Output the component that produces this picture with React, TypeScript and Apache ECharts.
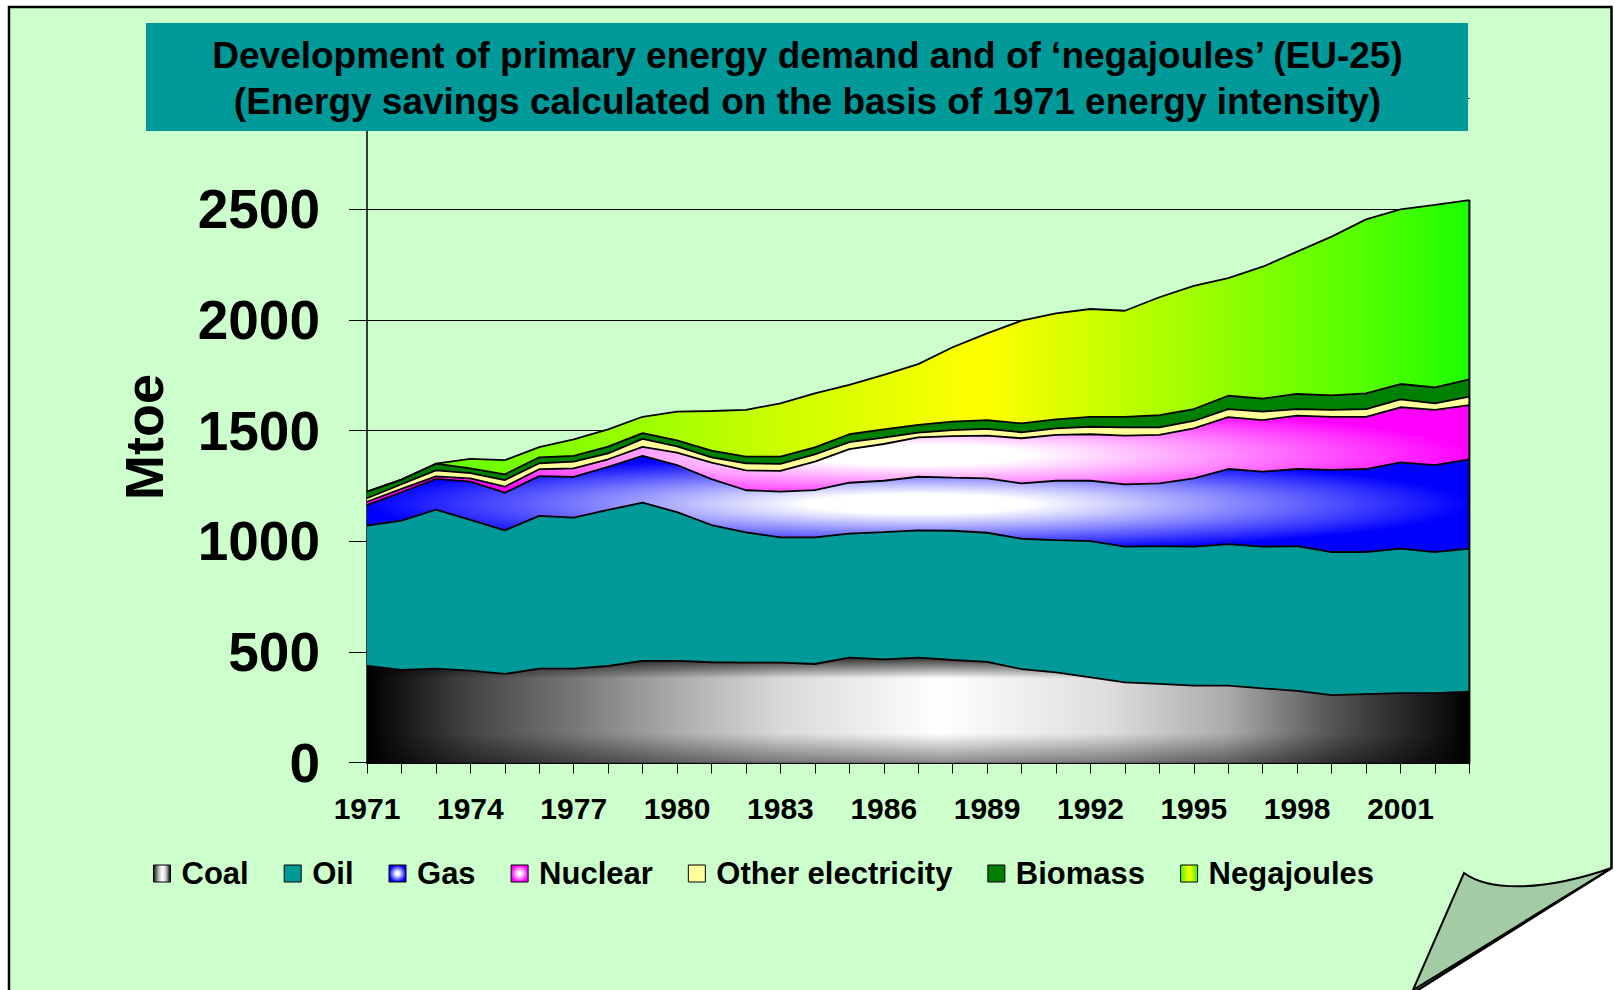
import React, { useEffect, useRef } from 'react';
import * as echarts from 'echarts';

const years = ['1971','1972','1973','1974','1975','1976','1977','1978','1979','1980','1981','1982','1983','1984','1985','1986','1987','1988','1989','1990','1991','1992','1993','1994','1995','1996','1997','1998','1999','2000','2001','2002','2003'];

const coal = [436,418,424,415,400,424,424,436,459,459,453,451,451,445,474,466,474,463,455,422,407,385,362,355,347,347,335,324,304,309,313,313,320];
const oil = [634,675,718,681,649,690,682,705,715,672,620,589,566,572,560,575,575,584,583,589,598,615,613,623,628,640,640,654,647,642,653,638,646];
const gas = [93,128,139,173,170,180,184,195,211,213,207,190,207,214,230,232,242,240,246,250,268,273,282,283,309,339,339,348,371,375,390,393,404];
const nuclear = [15,15,12,15,27,31,39,34,41,56,75,90,94,128,152,166,178,188,193,204,207,210,220,219,226,234,233,241,240,236,249,249,245];
const otherElectricity = [16,21,27,23,30,27,30,27,36,28,24,32,31,33,31,29,21,27,30,27,30,34,37,34,33,37,38,30,31,35,36,30,38];
const biomass = [30,21,30,22,26,27,26,30,26,27,30,30,33,32,36,37,35,38,40,40,40,45,48,55,54,60,59,68,66,71,69,72,78];
const negajoules = [0,0,0,43,64,46,75,78,74,130,179,211,241,244,223,246,275,336,392,464,479,487,479,533,556,531,596,643,717,786,789,824,810];

const yTicks = [0, 500, 1000, 1500, 2000, 2500, 3000];

const titleLine1 = 'Development of primary energy demand and of \u2018negajoules\u2019 (EU-25)';
const titleLine2 = '(Energy savings calculated on the basis of 1971 energy intensity)';

const FONT = '"Liberation Sans", Arial, Helvetica, sans-serif';

echarts.graphic.registerShape(
  'pageFlap',
  echarts.graphic.extendPath('M1464,873 C1490,892 1545,891 1611.5,868 L1413,990 Z', {})
);

function centerGrad(edge: string) {
  return new echarts.graphic.RadialGradient(0.5, 0.5, 0.5, [
    { offset: 0, color: '#ffffff' },
    { offset: 0.2, color: '#ffffff' },
    { offset: 1, color: edge },
  ]);
}

function coalGrad() {
  return new echarts.graphic.LinearGradient(0, 0, 1, 0, [
    { offset: 0, color: '#000000' },
    { offset: 0.094, color: '#454545' },
    { offset: 0.19, color: '#787878' },
    { offset: 0.28, color: '#ababab' },
    { offset: 0.375, color: '#d9d9d9' },
    { offset: 0.52, color: '#ffffff' },
    { offset: 0.67, color: '#dedede' },
    { offset: 0.78, color: '#ababab' },
    { offset: 0.875, color: '#555555' },
    { offset: 1, color: '#000000' },
  ]);
}

function coalShadeGrad() {
  return new echarts.graphic.LinearGradient(0, 0, 0, 1, [
    { offset: 0, color: 'rgba(0,0,0,0.8)' },
    { offset: 0.2, color: 'rgba(0,0,0,0)' },
    { offset: 0.72, color: 'rgba(0,0,0,0)' },
    { offset: 1, color: 'rgba(0,0,0,0.45)' },
  ]);
}

function negaGrad() {
  return new echarts.graphic.LinearGradient(0, 0, 1, 0, [
    { offset: 0, color: '#4dff00' },
    { offset: 0.19, color: '#87ff00' },
    { offset: 0.375, color: '#ccff00' },
    { offset: 0.56, color: '#ffff00' },
    { offset: 0.75, color: '#a0ff00' },
    { offset: 0.94, color: '#40ff00' },
    { offset: 1, color: '#1aff00' },
  ]);
}

export default function App() {
  const ref = useRef<HTMLDivElement>(null);

  useEffect(() => {
    if (!ref.current) return;
    const chart = echarts.init(ref.current, undefined, { renderer: 'svg' });

    const defs = [
      { name: 'Coal', data: coal, fill: () => coalGrad() },
      { name: 'Oil', data: oil, fill: () => '#009999' },
      { name: 'Gas', data: gas, fill: () => centerGrad('#0000ff') },
      { name: 'Nuclear', data: nuclear, fill: () => centerGrad('#ff00ff') },
      { name: 'Other electricity', data: otherElectricity, fill: () => '#ffff99' },
      { name: 'Biomass', data: biomass, fill: () => '#008000' },
      { name: 'Negajoules', data: negajoules, fill: () => negaGrad() },
    ];

    const lastIdx = years.length - 1;
    const total = defs.reduce((s, d) => s + d.data[lastIdx], 0);

    const series: any[] = [];
    defs.forEach((d, i) => {
      series.push({
        name: d.name,
        type: 'line',
        stack: 'energy',
        data: d.data,
        showSymbol: false,
        symbol: 'none',
        lineStyle: { color: '#000', width: 1.8 },
        areaStyle: { color: d.fill(), opacity: 1 },
        emphasis: { disabled: true },
        silent: true,
        z: 2,
      });
      if (i === 0) {
        // vertical shading of the coal band (same data, not stacked)
        series.push({
          name: 'coalShade',
          type: 'line',
          data: coal,
          showSymbol: false,
          symbol: 'none',
          lineStyle: { width: 0, opacity: 0 },
          areaStyle: { color: coalShadeGrad(), opacity: 1 },
          emphasis: { disabled: true },
          silent: true,
          z: 2,
        });
      }
    });

    series.push({
      name: 'edge',
      type: 'line',
      data: [[years[lastIdx], 0], [years[lastIdx], total]],
      showSymbol: false,
      symbol: 'none',
      lineStyle: { color: '#000', width: 2 },
      silent: true,
      z: 3,
    });

    chart.setOption({
      animation: false,
      backgroundColor: '#ffffff',
      title: {
        text: titleLine1 + '\n' + titleLine2,
        left: 'center',
        top: 32,
        padding: 0,
        z: 20,
        textStyle: {
          fontFamily: FONT,
          fontSize: 37,
          fontWeight: 'bold',
          color: '#000',
          lineHeight: 46,
        },
      },
      graphic: [
        {
          type: 'polygon',
          z: -10,
          silent: true,
          shape: { points: [[9, 7], [1611.5, 7], [1611.5, 868], [1413, 993], [9, 993]] },
          style: { fill: '#ccffcc', stroke: '#000', lineWidth: 2.5 },
        },
        {
          type: 'pageFlap',
          z: 5,
          silent: true,
          x: 0,
          y: 0,
          style: { fill: '#a4cca4', stroke: '#000', lineWidth: 2 },
        },
        {
          type: 'rect',
          z: 15,
          silent: true,
          shape: { x: 146, y: 23, width: 1322, height: 108 },
          style: { fill: '#009999' },
        },
      ],
      legend: {
        left: 148,
        top: 853,
        icon: 'rect',
        itemWidth: 17,
        itemHeight: 17,
        itemGap: 35,
        selectedMode: false,
        textStyle: {
          fontFamily: FONT,
          fontSize: 31,
          fontWeight: 'bold',
          color: '#000',
          padding: [0, 0, 0, 6],
        },
        data: defs.map((d) => ({
          name: d.name,
          itemStyle: { color: d.fill(), borderColor: '#000', borderWidth: 1 },
        })),
      },
      grid: {
        left: 367,
        right: 145.6,
        top: 98.5,
        bottom: 227.5,
        containLabel: false,
      },
      xAxis: {
        type: 'category',
        data: years,
        boundaryGap: false,
        axisLine: { lineStyle: { color: '#000', width: 2 } },
        axisTick: { show: true, interval: 0, length: 11, lineStyle: { color: '#000', width: 1 } },
        axisLabel: {
          interval: 2,
          margin: 31,
          fontFamily: FONT,
          fontSize: 30,
          fontWeight: 'bold',
          color: '#000',
        },
        splitLine: { show: false },
      },
      yAxis: {
        type: 'value',
        min: yTicks[0],
        max: yTicks[yTicks.length - 1],
        interval: 500,
        name: 'Mtoe',
        nameLocation: 'middle',
        nameRotate: 90,
        nameGap: 196,
        nameTextStyle: {
          fontFamily: FONT,
          fontSize: 54,
          fontWeight: 'bold',
          color: '#000',
          padding: [0, 13, 0, 0],
        },
        axisLine: { show: true, lineStyle: { color: '#000', width: 1.5 } },
        axisTick: { show: true, length: 18, lineStyle: { color: '#000', width: 1 } },
        axisLabel: {
          margin: 47,
          fontFamily: FONT,
          fontSize: 55,
          fontWeight: 'bold',
          color: '#000',
          formatter: (v: number) => (v === yTicks[yTicks.length - 1] ? '' : String(v)),
        },
        splitLine: { show: true, lineStyle: { color: '#000', width: 1 } },
      },
      series,
    });

    return () => chart.dispose();
  }, []);

  return (
    <div
      ref={ref}
      style={{ position: 'fixed', left: 0, top: 0, width: 1615, height: 990 }}
    />
  );
}
